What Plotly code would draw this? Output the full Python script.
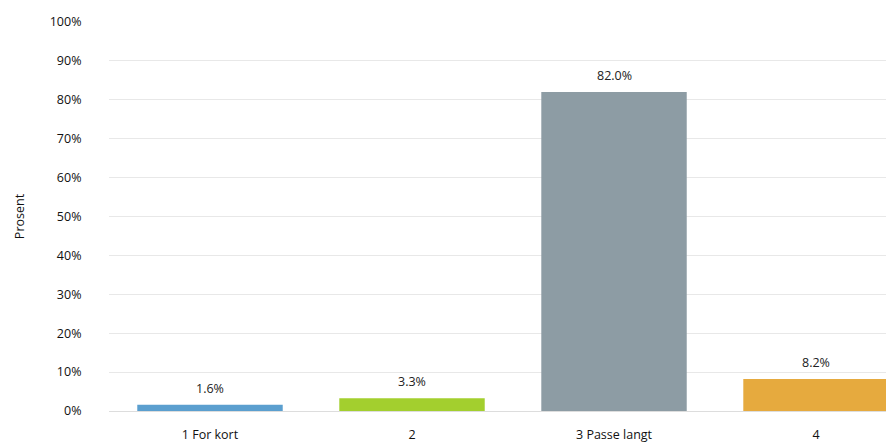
import plotly.graph_objects as go

categories = ["1 For kort", "2", "3 Passe langt", "4"]
values = [1.6, 3.3, 82.0, 8.2]
colors = ["#5b9fcf", "#a3cf2e", "#8d9ca4", "#e6aa3e"]
tick_vals = [0, 10, 20, 30, 40, 50, 60, 70, 80, 90, 100]
tick_text = [f"{v}%" for v in tick_vals]

font_family = "Open Sans, Liberation Sans, sans-serif"

fig = go.Figure(
    go.Bar(
        x=categories,
        y=values,
        marker=dict(color=colors, line=dict(width=0)),
        width=0.72,
        hoverinfo="x+y",
    )
)

for i, val in enumerate(values):
    fig.add_annotation(
        x=i,
        y=val,
        text=f"{val:.1f}%",
        showarrow=False,
        yanchor="bottom",
        yshift=6,
        font=dict(size=12.5, color="#222222", family=font_family),
    )

fig.update_layout(
    width=886,
    height=439,
    margin=dict(l=101, r=0, t=14, b=36),
    paper_bgcolor="white",
    plot_bgcolor="white",
    showlegend=False,
    font=dict(family=font_family, size=12.5, color="#222222"),
    xaxis=dict(
        type="category",
        range=[-0.5, 3.386],
        showgrid=False,
        showline=True,
        linecolor="#dddddd",
        linewidth=1,
        ticks="outside",
        ticklen=12,
        tickcolor="rgba(0,0,0,0)",
        tickfont=dict(size=12.5, color="#111111"),
    ),
    yaxis=dict(
        range=[0, 100],
        tickvals=tick_vals,
        ticktext=tick_text,
        showgrid=True,
        gridcolor="#e8e8e8",
        gridwidth=1,
        zeroline=False,
        ticks="outside",
        ticklen=24,
        tickcolor="rgba(0,0,0,0)",
        tickfont=dict(size=12.5, color="#111111"),
        title=dict(text="Prosent", font=dict(size=12.5, color="#111111"), standoff=22),
    ),
)

fig.write_html("out.html")
